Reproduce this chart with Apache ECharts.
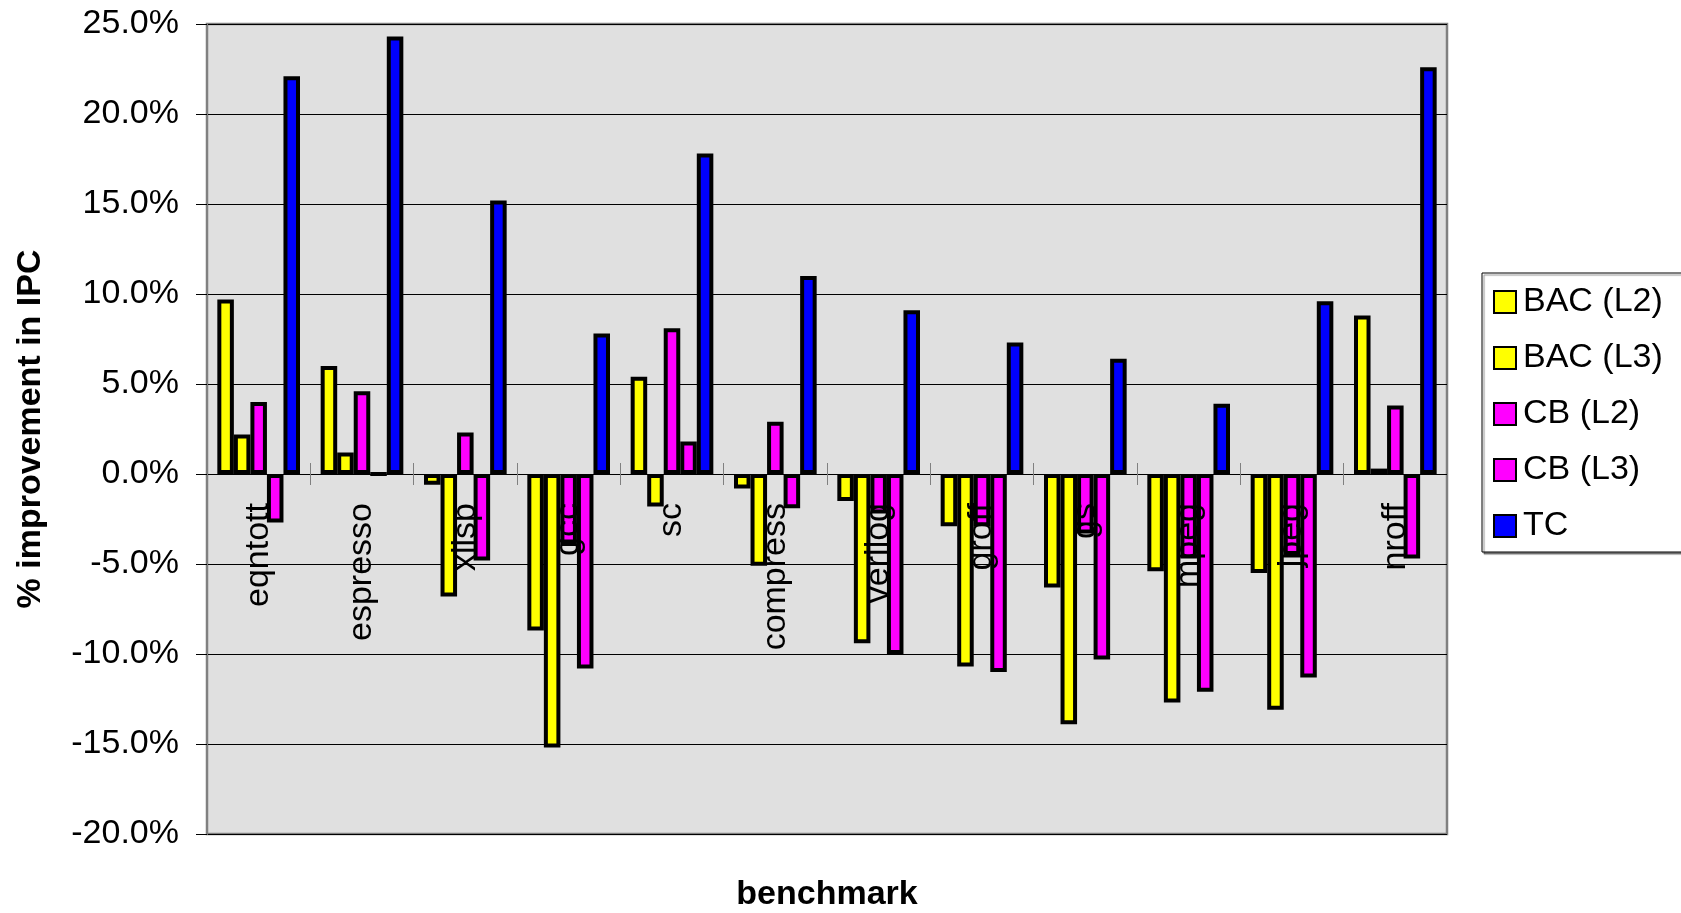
<!DOCTYPE html>
<html>
<head>
<meta charset="utf-8">
<script src="https://cdn.jsdelivr.net/npm/echarts@6/dist/echarts.min.js"></script>
<style>
  html, body { margin: 0; padding: 0; background: #ffffff; }
  #chart { width: 1681px; height: 913px; }
</style>
</head>
<body>
<div id="chart"></div>
<script>
// Benchmarks on the category axis
const categories = ['eqntott', 'espresso', 'xlisp', 'gcc', 'sc', 'compress',
                    'verilog', 'groff', 'gs', 'mpeg', 'jpeg', 'nroff'];

// % improvement in IPC per scheme
const bacL2 = [9.7, 6.0, -0.6, -8.7, 5.4, -0.8, -1.5, -2.9, -6.3, -5.4, -5.5, 8.8];
const bacL3 = [2.2, 1.2, -6.8, -15.2, -1.8, -5.1, -9.4, -10.7, -13.9, -12.7, -13.1, 0.3];
const cbL2  = [4.0, 4.6, 2.3, -4.0, 8.1, 2.9, -2.2, -2.9, -3.3, -4.7, -4.5, 3.8];
const cbL3  = [-2.7, 0.0, -4.8, -10.8, 1.8, -1.9, -10.0, -11.0, -10.3, -12.1, -11.3, -4.7];
const tc    = [22.1, 24.3, 15.2, 7.8, 17.8, 11.0, 9.1, 7.3, 6.4, 3.9, 9.6, 22.6];

const seriesNames = ['BAC (L2)', 'BAC (L3)', 'CB (L2)', 'CB (L3)', 'TC'];
const seriesValues = [bacL2, bacL3, cbL2, cbL3, tc];
const seriesColors = ['#ffff00', '#ffff00', '#ff00ff', '#ff00ff', '#0000ff'];

// Value axis range
const yMin = -20, yMax = 25, yStep = 5;

const FONT = "'Liberation Sans', Arial, sans-serif";

// Plot box
const GRID = { left: 207, right: 234, top: 24, bottom: 79 };
const plotHeight = 913 - GRID.top - GRID.bottom;
// Category axis sits on the 0% line: shift it up from the bottom edge
const zeroOffset = -plotHeight * (0 - yMin) / (yMax - yMin);

const chart = echarts.init(document.getElementById('chart'), null, { renderer: 'canvas' });

const series = seriesNames.map((name, i) => ({
  name: name,
  type: 'bar',
  xAxisIndex: 0,
  yAxisIndex: 0,
  data: seriesValues[i],
  barGap: '0%',
  barCategoryGap: '20%',
  itemStyle: { color: seriesColors[i], borderColor: '#000000', borderWidth: 4 },
  emphasis: { disabled: true },
  z: 2
}));

chart.setOption({
  animation: false,
  backgroundColor: '#ffffff',
  textStyle: { fontFamily: FONT },
  grid: {
    left: GRID.left, right: GRID.right, top: GRID.top, bottom: GRID.bottom,
    show: true, backgroundColor: '#e0e0e0', borderColor: '#808080', borderWidth: 2.5
  },
  legend: {
    orient: 'vertical',
    left: 1482, top: 273,
    padding: [12, 300, 9, 11],
    itemWidth: 22, itemHeight: 22, itemGap: 22,
    icon: 'rect',
    backgroundColor: '#ffffff',
    borderColor: '#000000', borderWidth: 1,
    shadowColor: 'rgba(0,0,0,0.45)', shadowBlur: 1, shadowOffsetX: 2, shadowOffsetY: 2,
    textStyle: { fontSize: 34, lineHeight: 34, color: '#000000', fontFamily: FONT, padding: [0, 0, 0, 2] },
    data: seriesNames
  },
  xAxis: [
    {
      type: 'category',
      data: categories,
      position: 'bottom',
      offset: zeroOffset,
      z: 10,
      axisLine: { show: true, onZero: false, lineStyle: { color: '#000000', width: 1 } },
      axisTick: { show: true, inside: false, length: 11, alignWithLabel: false, lineStyle: { color: '#808080', width: 1 } },
      axisLabel: {
        show: true, interval: 0, rotate: 90, margin: 29,
        fontSize: 34, color: '#000000', fontFamily: FONT
      },
      splitLine: { show: false }
    },
    {
      type: 'category',
      data: categories,
      position: 'bottom',
      offset: zeroOffset,
      z: 10,
      axisLine: { show: false, onZero: false },
      axisTick: { show: true, inside: true, length: 11, lineStyle: { color: '#808080', width: 1 } },
      axisLabel: { show: false },
      splitLine: { show: false }
    }
  ],
  yAxis: {
    type: 'value',
    min: yMin, max: yMax, interval: yStep,
    axisLine: { show: true, lineStyle: { color: '#808080', width: 2 } },
    axisTick: { show: true, inside: false, length: 11, lineStyle: { color: '#000000', width: 1 } },
    axisLabel: {
      margin: 28, fontSize: 34, color: '#000000', fontFamily: FONT,
      formatter: v => v.toFixed(1) + '%'
    },
    splitLine: { show: true, lineStyle: { color: '#000000', width: 1 } }
  },
  graphic: [
    {
      type: 'text',
      x: 31, y: 429,
      rotation: Math.PI / 2,
      style: {
        text: '% improvement in IPC',
        fontSize: 34, fontWeight: 'bold', fontFamily: FONT, fill: '#000000',
        textAlign: 'center', textVerticalAlign: 'middle'
      }
    },
    {
      type: 'text',
      x: 827, y: 895,
      style: {
        text: 'benchmark',
        fontSize: 34, fontWeight: 'bold', fontFamily: FONT, fill: '#000000',
        textAlign: 'center', textVerticalAlign: 'middle'
      }
    }
  ],
  series: series
});
</script>
</body>
</html>
